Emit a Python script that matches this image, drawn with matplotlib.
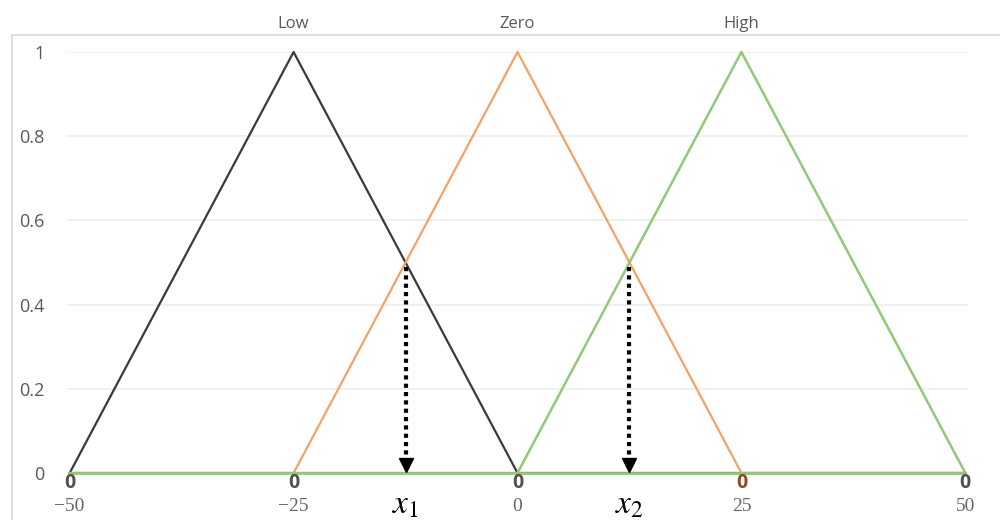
import matplotlib.pyplot as plt
from matplotlib.lines import Line2D

# dane
x_vals = [-50, -25, 0, 25, 50]
x_labels = ['\u221250', '\u221225', '0', '25', '50']
low = [0, 1, 0, 0, 0]
zero = [0, 0, 1, 0, 0]
high = [0, 0, 0, 1, 0]
baseline = [0, 0, 0, 0, 0]
set_names = ['Low', 'Zero', 'High']
peaks = [-25, 0, 25]
x_cross = [-12.5, 12.5]
y_cross = 0.5
cross_labels = ['$x_1$', '$x_2$']
y_ticks = [0, 0.2, 0.4, 0.6, 0.8, 1]
y_labels = ['0', '0.2', '0.4', '0.6', '0.8', '1']

plt.rcParams['mathtext.fontset'] = 'stix'

fig = plt.figure(figsize=(10, 5.2), dpi=100)
ax = fig.add_axes([0.067, 0.0904, 0.901, 0.8096])

c_low = '#3a3a3a'
c_zero = '#f4a266'
c_high = '#93c878'

ax.plot(x_vals, low, color=c_low, lw=1.6, clip_on=False, zorder=3)
ax.plot(x_vals, zero, color=c_zero, lw=1.6, clip_on=False, zorder=4)
ax.plot(x_vals, high, color=c_high, lw=1.8, clip_on=False, zorder=5)
ax.plot(x_vals, baseline, color=c_high, lw=2.0, clip_on=False, zorder=5)

# etykiety danych "0"
for i, x in enumerate(x_vals):
    col = '#8a4a22' if x == 25 else '#505050'
    ax.annotate('0', (x, 0), xytext=(0, -7), textcoords='offset points',
                ha='center', va='center', fontsize=14, fontweight='bold',
                color=col, family='Open Sans', zorder=6)

# nazwy zbiorow nad szczytami
for name, p in zip(set_names, peaks):
    ax.annotate(name, (p, 1), xytext=(0, 20), textcoords='offset points',
                ha='center', va='center', fontsize=12, color='#595959',
                family='Open Sans', annotation_clip=False)

# strzalki kropkowane
for xc, lab in zip(x_cross, cross_labels):
    ax.plot([xc, xc], [y_cross - 0.01, 0.04], color='black', lw=3,
            linestyle=(0, (1, 1)), zorder=7)
    ax.plot(xc, 0.02, marker='v', color='black', markersize=10, zorder=7)
    ax.annotate(lab, (xc, 0), xytext=(0, -22), textcoords='offset points',
                ha='center', va='center', fontsize=24, color='black',
                annotation_clip=False)

ax.set_xlim(-50.3, 50.3)
ax.set_ylim(0, 1)
ax.set_xticks(x_vals)
ax.set_xticklabels(x_labels, family='Liberation Serif', fontsize=14, color='#666666')
ax.tick_params(axis='x', length=0, pad=18)
ax.set_yticks(y_ticks)
ax.set_yticklabels(y_labels, family='Open Sans', fontsize=13, color='#595959')
ax.tick_params(axis='y', length=0, pad=16)
ax.grid(axis='y', color='#ededed', lw=1.2)
ax.set_axisbelow(True)
for s in ax.spines.values():
    s.set_visible(False)

# ramka wykresu
fig.add_artist(Line2D([0.012, 0.012], [0, 1 - 35 / 520], color='#d9d9d9', lw=1.2))
fig.add_artist(Line2D([0.012, 1], [1 - 35 / 520, 1 - 35 / 520], color='#d9d9d9', lw=1.2))

plt.savefig('out.png', dpi=100)
plt.close()
